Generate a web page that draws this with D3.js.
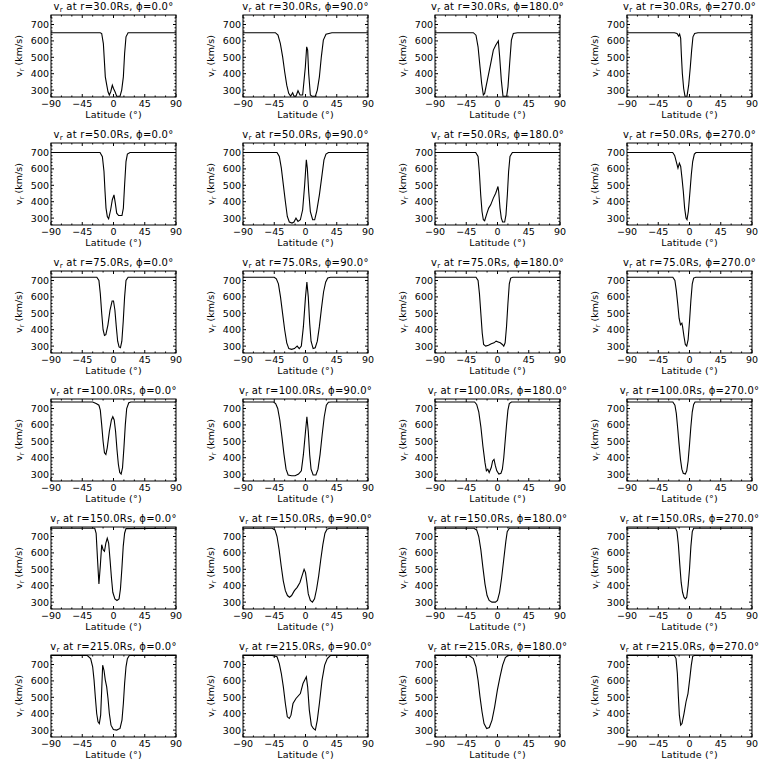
<!DOCTYPE html>
<html><head><meta charset="utf-8">
<script src="https://cdn.jsdelivr.net/npm/d3@7"></script>
<style>body{margin:0;background:#fff} svg text{font-family:"DejaVu Sans",sans-serif;fill:#000}</style>
</head><body><svg id="c" width="768" height="768"></svg>
<script>
const radii=[30,50,75,100,150,215];
const phis=[0,90,180,270];
const xTicks=[-90,-45,0,45,90];
const yTicks=[300,400,500,600,700];
const latDomain=[-90,90];
const vDomain=[258,758];

// [latitude (deg), v_r (km/s)]
const r30_p0=[[-90,650],[-19,650],[-17,645],[-14.6,584],[-13.2,483],[-11.8,381],[-9.7,330],[-7.9,290],[-6,270],[-4,290],[-1.7,330],[0,310],[2.2,290],[4.6,263],[9.4,263],[11.8,300],[14.2,381],[16,523],[18,625],[21,650],[90,650]];
const r30_p90=[[-90,650],[-43.4,650],[-39.6,635],[-36.2,584],[-32.9,503],[-30,412],[-27,330],[-24.2,280],[-21.4,263],[-18.5,284],[-16.6,263],[-13.7,263],[-10.8,296],[-7.9,270],[-4.1,270],[-0.2,442],[1.7,564],[3.1,544],[4.6,401],[7,270],[9.4,263],[14.2,263],[17,300],[20,381],[22.8,503],[25.7,605],[29.5,641],[38,650],[90,650]];
const r30_p180=[[-90,650],[-34.8,650],[-31,635],[-28,564],[-25.2,442],[-22.8,340],[-20.4,270],[-18.5,280],[-14.6,361],[-9.8,462],[-6,544],[-2.6,574],[1.2,600],[3.1,503],[5.5,361],[7.9,263],[13.2,263],[15.1,320],[17.5,462],[20,605],[22.8,645],[28.6,650],[90,650]];
const r30_p270=[[-90,650],[-21.8,650],[-18,645],[-15.6,629],[-14.2,641],[-12.7,615],[-11.8,523],[-10.3,401],[-8.4,310],[-6.5,263],[-3.6,263],[-1.2,330],[1.2,442],[3.1,544],[5,625],[7.4,645],[12.2,650],[90,650]];

const r50_p0=[[-90,700],[-19.4,700],[-16,675],[-13.7,584],[-12.2,462],[-10.8,361],[-8.9,310],[-7,296],[-4.1,351],[-1.7,412],[0.7,442],[2.6,391],[4.6,330],[7.4,316],[12.2,316],[14.2,361],[16,503],[18,645],[20,690],[23.8,700],[90,700]];
const r50_p90=[[-90,700],[-41,700],[-37.7,676],[-34.8,605],[-31.9,503],[-29,401],[-26.2,310],[-23.3,276],[-19.4,270],[-16.6,276],[-13.7,300],[-10.8,280],[-7.4,290],[-4.1,351],[-1.2,503],[1.2,655],[2.6,605],[4.6,462],[7,340],[10.3,290],[13.2,290],[16,340],[20,442],[23.8,564],[26.6,655],[29.5,690],[33,700],[90,700]];
const r50_p180=[[-90,700],[-31.4,700],[-28,676],[-26.2,584],[-24.2,442],[-22.3,340],[-20.4,290],[-18.5,284],[-15.6,324],[-12.7,361],[-9.8,381],[-6,422],[-2.6,452],[0.7,493],[1.7,462],[3.6,361],[5.5,300],[7.4,276],[10.3,276],[12.2,320],[14.2,442],[16,584],[18,676],[21.4,700],[90,700]];
const r50_p270=[[-90,700],[-24.2,700],[-21.4,682],[-18.5,635],[-16.6,605],[-14.6,635],[-12.7,615],[-10.8,544],[-8.9,462],[-7,361],[-5,300],[-3.6,290],[-1.7,340],[0.7,462],[2.6,564],[4.6,645],[7,690],[9.4,700],[90,700]];

const r75_p0=[[-90,720],[-24,720],[-21,700],[-19,620],[-17,500],[-15,400],[-13,365],[-11,370],[-8,430],[-5,520],[-2,575],[0,575],[2,520],[4,420],[6,330],[8,295],[10,290],[12,330],[14,450],[16,600],[18,700],[21,720],[90,720]];
const r75_p90=[[-90,720],[-45,720],[-42,710],[-39,680],[-36,600],[-33,500],[-30,400],[-27,320],[-24,285],[-20,280],[-16,285],[-12,300],[-9,285],[-6,300],[-3,420],[0,600],[2,690],[4,600],[6,440],[8,330],[11,285],[14,290],[17,330],[20,420],[23,530],[26,630],[29,690],[32,715],[36,720],[90,720]];
const r75_p180=[[-90,720],[-31,720],[-28,700],[-26,620],[-24,500],[-22,380],[-20,310],[-17,300],[-13,305],[-9,315],[-5,320],[-2,330],[1,325],[4,320],[7,310],[9,300],[11,320],[13,420],[15,560],[17,680],[19,715],[22,720],[90,720]];
const r75_p270=[[-90,720],[-24,720],[-21,700],[-19,640],[-17,560],[-15,470],[-13,430],[-11,440],[-10,420],[-8,360],[-6,310],[-4,300],[-2,340],[0,450],[2,580],[4,680],[6,715],[9,720],[90,720]];

const r100_p0=[[-90,740],[-30,740],[-25,730],[-21,720],[-19,690],[-17,600],[-15,500],[-13,430],[-11,420],[-9,460],[-6,560],[-3,630],[-1,650],[1,630],[3,560],[5,450],[7,360],[9,310],[11,300],[13,340],[15,460],[17,600],[19,700],[22,735],[25,740],[90,740]];
const r100_p90=[[-90,740],[-46,740],[-43,730],[-40,700],[-37,630],[-34,530],[-31,420],[-28,330],[-25,295],[-20,290],[-15,290],[-10,300],[-6,320],[-3,420],[0,560],[2,650],[4,560],[6,420],[8,330],[11,295],[15,295],[18,330],[21,420],[24,540],[27,650],[30,720],[33,738],[37,740],[90,740]];
const r100_p180=[[-90,740],[-33,740],[-30,725],[-27,680],[-24,590],[-21,470],[-18,370],[-16,320],[-14,330],[-12,310],[-9,340],[-7,380],[-5,390],[-3,350],[-1,320],[2,300],[5,305],[7,330],[9,400],[11,500],[13,600],[15,690],[17,730],[20,740],[90,740]];
const r100_p270=[[-90,740],[-24,740],[-21,720],[-19,670],[-17,580],[-15,480],[-13,390],[-11,330],[-9,305],[-6,300],[-4,320],[-2,380],[0,480],[2,590],[4,680],[6,725],[8,740],[90,740]];

const r150_p0=[[-90,750],[-27,750],[-25,720],[-23,560],[-21,410],[-19,520],[-17,650],[-15,620],[-13,610],[-11,660],[-9,690],[-7,660],[-5,560],[-3,450],[-1,360],[2,320],[5,310],[8,320],[10,380],[12,500],[14,640],[16,720],[18,748],[90,750]];
const r150_p90=[[-90,750],[-48,750],[-44,740],[-41,700],[-38,620],[-35,520],[-32,430],[-29,370],[-26,340],[-23,330],[-20,340],[-16,370],[-12,390],[-8,420],[-5,460],[-2,500],[0,480],[2,420],[4,350],[7,310],[10,300],[13,320],[16,380],[19,460],[22,560],[25,650],[28,720],[31,745],[35,750],[90,750]];
const r150_p180=[[-90,750],[-34,750],[-30,740],[-27,700],[-24,620],[-21,510],[-18,410],[-15,340],[-12,310],[-8,300],[-3,300],[0,310],[3,360],[6,450],[9,560],[12,670],[14,730],[17,750],[90,750]];
const r150_p270=[[-90,750],[-20,750],[-18,730],[-16,650],[-14,530],[-12,420],[-10,360],[-8,330],[-6,320],[-4,330],[-2,400],[0,500],[2,640],[4,730],[6,750],[90,750]];

const r215_p0=[[-90,755],[-37.7,755],[-32.9,736],[-30,686],[-28,605],[-26.2,503],[-24.2,401],[-22.3,351],[-20.4,340],[-18.5,391],[-17,544],[-15.6,696],[-13.7,665],[-11.8,605],[-9.8,564],[-7.9,493],[-6,401],[-3.6,330],[-0.2,304],[4.6,300],[9.4,310],[12.2,361],[14.2,462],[16,584],[18,686],[20,736],[22.8,755],[90,755]];
const r215_p90=[[-90,755],[-48,755],[-41,747],[-37.7,706],[-34.8,645],[-31.9,564],[-29,462],[-26.2,381],[-23.3,371],[-20.9,391],[-18,462],[-13.7,493],[-7.4,523],[-3.6,584],[1.2,625],[3.1,564],[5.5,422],[8.4,330],[11.3,310],[14.2,300],[17,361],[20,462],[23.8,605],[27.6,696],[31.4,736],[35.8,755],[90,755]];
const r215_p180=[[-90,755],[-41,755],[-34.8,736],[-31,686],[-28,605],[-25.2,503],[-22.3,412],[-19.4,340],[-15.6,310],[-11.8,316],[-7.9,361],[-4.1,442],[-0.2,544],[3.6,625],[7.4,696],[11.3,742],[15,755],[90,755]];
const r215_p270=[[-90,755],[-21.8,755],[-19.4,736],[-17.5,645],[-16,503],[-14.6,391],[-12.7,330],[-10.8,340],[-7.9,401],[-5,473],[-2.2,523],[0.7,625],[2.6,696],[4.6,750],[7,755],[90,755]];

const panelData=[
  [r30_p0,r30_p90,r30_p180,r30_p270],
  [r50_p0,r50_p90,r50_p180,r50_p270],
  [r75_p0,r75_p90,r75_p180,r75_p270],
  [r100_p0,r100_p90,r100_p180,r100_p270],
  [r150_p0,r150_p90,r150_p180,r150_p270],
  [r215_p0,r215_p90,r215_p180,r215_p270]
];

const svg=d3.select("#c");
svg.append("rect").attr("width",768).attr("height",768).attr("fill","#fff");
const PW=192, PH=128, L=51, R=176, T=15, B=97;
const x=d3.scaleLinear().domain(latDomain).range([L,R]);
const y=d3.scaleLinear().domain(vDomain).range([B,T]);
const xMinor=d3.range(-90,91,15).filter(v=>!xTicks.includes(v));
const yMinor=d3.range(260,758,20).filter(v=>!yTicks.includes(v));
const line=d3.line().x(d=>x(d[0])).y(d=>y(d[1]));

radii.forEach((r,ri)=>{
  phis.forEach((p,pi)=>{
    const g=svg.append("g").attr("transform",`translate(${pi*PW},${ri*PH})`);
    const clipId=`clip${ri}_${pi}`;
    g.append("clipPath").attr("id",clipId).append("rect").attr("x",L).attr("y",T).attr("width",R-L).attr("height",B-T);
    g.append("path").datum(panelData[ri][pi]).attr("d",line)
      .attr("fill","none").attr("stroke","#000").attr("stroke-width",1.1)
      .attr("clip-path",`url(#${clipId})`);
    g.append("rect").attr("x",L).attr("y",T).attr("width",R-L).attr("height",B-T)
      .attr("fill","none").attr("stroke","#000").attr("stroke-width",1);
    const tk=g.append("g").attr("stroke","#000").attr("stroke-width",1);
    xTicks.forEach(v=>{
      tk.append("line").attr("x1",x(v)).attr("x2",x(v)).attr("y1",B).attr("y2",B-3);
      tk.append("line").attr("x1",x(v)).attr("x2",x(v)).attr("y1",T).attr("y2",T+3);
    });
    xMinor.forEach(v=>{
      tk.append("line").attr("x1",x(v)).attr("x2",x(v)).attr("y1",B).attr("y2",B-1.5);
      tk.append("line").attr("x1",x(v)).attr("x2",x(v)).attr("y1",T).attr("y2",T+1.5);
    });
    yTicks.forEach(v=>{
      tk.append("line").attr("x1",L).attr("x2",L+3).attr("y1",y(v)).attr("y2",y(v));
      tk.append("line").attr("x1",R).attr("x2",R-3).attr("y1",y(v)).attr("y2",y(v));
    });
    yMinor.forEach(v=>{
      tk.append("line").attr("x1",L).attr("x2",L+1.5).attr("y1",y(v)).attr("y2",y(v));
      tk.append("line").attr("x1",R).attr("x2",R-1.5).attr("y1",y(v)).attr("y2",y(v));
    });
    xTicks.forEach(v=>{
      g.append("text").attr("x",x(v)).attr("y",B+10).attr("text-anchor","middle")
        .attr("font-size",9.5).text(v<0?"\u2212"+(-v):v);
    });
    yTicks.forEach(v=>{
      g.append("text").attr("x",L-2).attr("y",y(v)+3.5).attr("text-anchor","end")
        .attr("font-size",9.5).text(v);
    });
    const t=g.append("text").attr("x",(L+R)/2).attr("y",10).attr("text-anchor","middle")
      .attr("font-size",10).attr("letter-spacing",0.25);
    t.append("tspan").text("v");
    t.append("tspan").attr("font-size",7).attr("dy",2).text("r");
    t.append("tspan").attr("dy",-2).text(` at r=${r.toFixed(1)}Rs, ϕ=${p.toFixed(1)}°`);
    g.append("text").attr("x",(L+R)/2).attr("y",B+21).attr("text-anchor","middle")
      .attr("font-size",9.5).attr("letter-spacing",0.2).text("Latitude (°)");
    const yl=g.append("text").attr("transform",`translate(22,${(T+B)/2}) rotate(-90)`)
      .attr("text-anchor","middle").attr("font-size",9.5);
    yl.append("tspan").text("v");
    yl.append("tspan").attr("font-size",7).attr("dy",2).text("r");
    yl.append("tspan").attr("dy",-2).text(" (km/s)");
  });
});
</script></body></html>
